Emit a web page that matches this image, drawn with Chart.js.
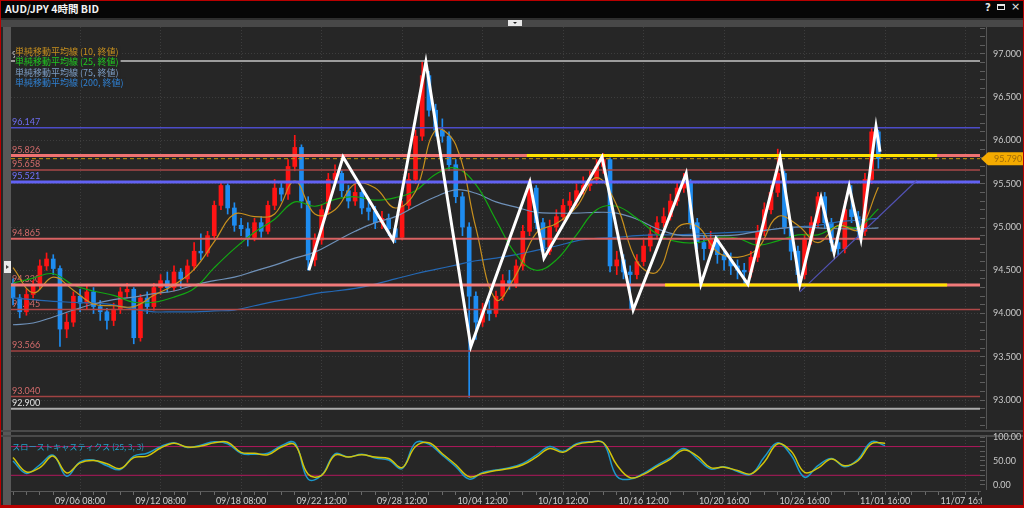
<!DOCTYPE html>
<html>
<head>
<meta charset="utf-8">
<script src="https://cdn.jsdelivr.net/npm/chart.js@4.4.1/dist/chart.umd.min.js"></script>
<style>
html, body { margin: 0; padding: 0; background: #262626; width: 1024px; height: 508px; overflow: hidden; }
#wrap { position: relative; width: 1024px; height: 508px; background: #262626; }
.abs { position: absolute; }
#mainCanvas { position: absolute; left: 0; top: 27px; }
#subCanvas { position: absolute; left: 0; top: 431px; }
</style>
</head>
<body>
<div id="wrap">
  <div class="abs" style="left:0;top:0;width:1024px;height:18px;background:#060606"></div>
  <div class="abs" style="left:5px;top:2px;color:#f2f2f2;font:bold 10.5px 'Noto Sans CJK JP';line-height:13px">AUD/JPY 4時間 BID</div>
  <div class="abs" style="left:985px;top:2px;color:#e8e8e8;font:bold 10px 'DejaVu Sans';line-height:12px">?</div>
  <div class="abs" style="left:997px;top:4px;width:8px;height:6px;border:1px solid #e8e8e8;border-top-width:2px;box-sizing:border-box"></div>
  <div class="abs" style="left:1011px;top:1px;color:#e8e8e8;font:11px 'DejaVu Sans';line-height:12px">×</div>
  <div class="abs" style="left:0;top:18px;width:1024px;height:2px;background:#2e2e2e"></div>
  <div class="abs" style="left:0;top:20px;width:1024px;height:7px;background:#484848"></div>
  <div class="abs" style="left:508px;top:20px;width:14px;height:6px;background:#e8e8e8"></div>
  <div class="abs" style="left:513px;top:22px;width:0;height:0;border-left:2px solid transparent;border-right:2px solid transparent;border-top:2px solid #222"></div>
  <div class="abs" style="left:3px;top:27px;width:8px;height:478px;background:#585858"></div>
  <div class="abs" style="left:4px;top:261px;width:7px;height:12px;background:#eaeaea"></div>
  <div class="abs" style="left:6px;top:265px;width:0;height:0;border-top:2px solid transparent;border-bottom:2px solid transparent;border-left:3px solid #444"></div>
  <div class="abs" style="left:0;top:430px;width:1024px;height:2px;background:#4a4a4a"></div>
  <div class="abs" style="left:0;top:435px;width:1024px;height:2px;background:#4a4a4a"></div>
  <canvas id="mainCanvas" width="1024" height="402"></canvas>
  <canvas id="subCanvas" width="1024" height="77"></canvas>
  <div class="abs" style="left:982px;top:490px;width:42px;height:15px;background:#262626"></div>
  <div class="abs" style="left:0;top:0;width:1024px;height:1px;background:#b80000"></div>
  <div class="abs" style="left:0;top:0;width:1px;height:508px;background:#b80000"></div>
  <div class="abs" style="left:1023px;top:0;width:1px;height:508px;background:#b80000"></div>
  <div class="abs" style="left:0;top:505px;width:1024px;height:3px;background:#b80000"></div>
</div>
<script>
// ---- data ----
var dateLabels = ['09/06 08:00', '09/12 08:00', '09/18 08:00', '09/22 12:00', '09/28 12:00', '10/04 12:00',
                  '10/10 12:00', '10/16 12:00', '10/20 16:00', '10/26 16:00', '11/01 16:00', '11/07 16:00'];

var firstOpen = 94.35;
var closes = [94.18,94.02,94.22,94.32,94.55,94.63,94.52,93.82,93.90,94.20,
              94.12,94.25,94.08,94.02,93.92,94.05,94.25,94.28,93.72,94.18,
              94.08,94.30,94.38,94.30,94.48,94.40,94.55,94.72,94.70,94.90,
              95.25,95.48,95.22,95.02,94.98,94.88,95.05,94.95,95.25,95.45,
              95.38,95.70,95.92,95.30,94.62,94.85,95.20,95.55,95.62,95.42,
              95.30,95.40,95.22,95.18,95.05,95.10,94.98,94.88,95.25,95.55,
              96.05,96.75,96.35,96.12,96.05,95.72,95.35,95.00,94.20,93.90,
              94.05,94.00,94.20,94.38,94.35,94.55,94.95,95.45,95.05,94.72,
              95.00,95.12,95.25,95.30,95.42,95.48,95.55,95.70,95.78,94.55,
              94.62,94.48,94.45,94.60,94.78,94.92,95.05,95.12,95.30,95.45,
              95.52,95.05,94.82,94.75,94.85,94.68,94.62,94.55,94.50,94.48,
              94.65,94.95,95.20,95.40,95.62,95.00,94.72,94.45,94.85,95.05,
              95.35,95.05,94.82,94.75,95.20,95.12,94.95,95.55,96.10,95.79];
var highs = [94.40,94.22,94.28,94.38,94.62,94.70,94.68,94.55,94.00,94.25,
             94.28,94.32,94.30,94.15,94.06,94.12,94.30,94.35,94.30,94.22,
             94.25,94.35,94.45,94.48,94.55,94.52,94.62,94.82,94.92,94.95,
             95.30,95.52,95.50,95.28,95.10,95.05,95.10,95.12,95.30,95.55,
             95.52,95.78,96.06,95.95,95.35,94.92,95.26,95.62,95.72,95.66,
             95.48,95.52,95.46,95.30,95.24,95.18,95.15,95.02,95.30,95.62,
             96.12,96.92,96.80,96.42,96.25,96.10,95.78,95.40,95.05,94.25,
             94.12,94.15,94.26,94.45,94.50,94.62,95.02,95.55,95.48,95.10,
             95.08,95.20,95.32,95.40,95.50,95.58,95.65,95.78,95.85,95.80,
             94.72,94.68,94.55,94.68,94.85,95.00,95.12,95.22,95.38,95.52,
             95.62,95.55,95.10,94.90,94.95,94.90,94.75,94.70,94.62,94.58,
             94.72,95.02,95.28,95.48,95.90,95.66,95.05,94.78,94.92,95.12,
             95.40,95.40,95.10,94.88,95.30,95.48,95.18,95.62,96.15,96.12];
var lows = [94.10,93.95,93.98,94.18,94.28,94.50,94.45,93.62,93.72,93.85,
            94.02,94.05,94.00,93.92,93.82,93.86,94.00,94.18,93.65,93.68,
            94.00,94.04,94.22,94.25,94.26,94.30,94.36,94.50,94.62,94.66,
            94.86,95.20,95.15,94.95,94.90,94.78,94.84,94.88,94.92,95.20,
            95.30,95.32,95.65,95.22,94.50,94.55,94.80,95.15,95.48,95.35,
            95.22,95.25,95.15,95.08,94.98,94.98,94.90,94.82,94.85,95.20,
            95.50,96.00,96.28,96.05,95.98,95.65,95.28,94.90,93.03,93.70,
            93.85,93.92,93.96,94.15,94.28,94.30,94.50,94.90,94.98,94.65,
            94.68,94.95,95.08,95.18,95.25,95.38,95.42,95.50,95.62,94.48,
            94.45,94.40,94.05,94.40,94.55,94.72,94.88,95.00,95.08,95.25,
            95.40,94.98,94.75,94.62,94.70,94.58,94.50,94.45,94.40,94.34,
            94.42,94.60,94.90,95.15,95.35,94.92,94.62,94.33,94.40,94.80,
            95.00,94.98,94.72,94.68,94.70,95.05,94.86,94.90,95.50,95.68];

// moving averages, one reading every third candle
var ma10 = [94.53,94.24,94.42,94.27,94.11,94.09,94.08,94.21,94.33,94.51,
            94.83,95.15,95.12,95.15,95.53,95.15,95.20,95.50,95.45,95.22,
            95.41,96.12,95.95,94.99,94.16,94.45,94.93,95.04,95.23,95.57,
            95.25,94.60,94.48,94.99,95.01,94.71,94.65,94.75,95.12,95.02,
            94.82,95.02,94.97,95.46];
var ma25 = [94.35,94.41,94.46,94.33,94.26,94.21,94.13,94.13,94.19,94.29,
            94.53,94.75,94.94,95.09,95.29,95.24,95.32,95.35,95.31,95.34,
            95.42,95.61,95.68,95.49,95.08,94.68,94.50,94.62,94.91,95.20,
            95.24,95.10,94.92,94.83,94.82,94.88,94.87,94.79,94.84,94.91,
            94.91,95.01,95.00,95.21];
var ma75 = [93.87,93.89,93.96,94.04,94.11,94.16,94.19,94.23,94.26,94.33,
            94.38,94.42,94.49,94.56,94.64,94.71,94.83,94.95,95.05,95.12,
            95.24,95.35,95.43,95.39,95.29,95.23,95.17,95.16,95.16,95.17,
            95.16,95.09,94.98,94.91,94.90,94.90,94.91,94.95,94.98,95.00,
            94.99,94.98,94.98,94.99];
var ma200 = [94.18,94.16,94.14,94.13,94.12,94.10,94.05,94.02,94.02,94.02,
             94.03,94.04,94.09,94.14,94.18,94.23,94.26,94.29,94.34,94.40,
             94.46,94.51,94.56,94.61,94.64,94.68,94.73,94.78,94.84,94.87,
             94.88,94.90,94.91,94.91,94.92,94.93,94.94,94.95,94.98,95.00,
             95.02,95.06,95.08,95.10];

// slow stochastics (25,3,3), one reading every second candle
var stochK = [50,24,42,62,18,48,52,40,32,60, 66,80,88,78,83,90,86,66,64,66,
              82,88,12,20,65,58,64,56,52,34, 88,85,62,38,12,26,31,36,45,62,
              80,70,86,90,88,18,12,24,41,57, 76,55,33,38,28,22,58,88,62,16,
              40,55,38,54,90,82];
var stochD = [57,27,36,60,25,46,51,44,34,57, 60,77,87,79,81,88,89,68,66,63,
              79,84,22,20,62,58,63,58,55,36, 80,88,65,42,17,24,30,34,42,58,
              76,68,84,89,88,42,15,22,38,54, 73,60,36,37,30,23,48,86,70,26,
              35,54,40,51,86,87];
var stochBands = [20, 80];

var levels = [96.920, 96.147, 95.826, 95.658, 95.521, 94.865, 94.330, 94.045, 93.566, 93.040, 92.900];
var lastPrice = 95.790;

// hand-drawn zigzag (x in 4h bars)
var zigX = [89.2, 99.4, 114.3, 124.1, 137.5, 155.1, 159.3, 176.6, 185.9, 201.7, 206.1,
            210.6, 220.1, 229.7, 235.6, 241.9, 245.8, 250.3, 253.8, 258.3, 259.5];
var zigY = [94.50, 95.81, 94.85, 96.91, 93.62, 95.52, 94.64, 95.81, 94.04, 95.62, 94.34,
            94.87, 94.34, 95.81, 94.34, 95.34, 94.70, 95.47, 94.86, 96.16, 95.87];
var rangeTopX = [154.2, 276.5], rangeTop = 95.826;
var rangeBottomX = [195.4, 279.5], rangeBottom = 94.330;
var trendX = [235.6, 270.5], trendY = [94.25, 95.54];

// ---- styles ----
var X_MIN = 0.4, X_MAX = 289.3;
var Y_MIN = 92.665, Y_MAX = 97.312;
var UP = '#ff1414', DOWN = '#1e8cf0';
var levelStyles = [
  { line: '#9c9c9c', width: 2, label: '#c8c8c8' },
  { line: '#4c4cc8', width: 1.5, label: '#6e6ef2' },
  { line: '#f07272', width: 3, label: '#d46c6c' },
  { line: '#a84848', width: 1.5, label: '#d46c6c' },
  { line: '#6262f4', width: 3, label: '#7272ff' },
  { line: '#d86262', width: 2, label: '#d46c6c' },
  { line: '#f27a7a', width: 3, label: '#d46c6c' },
  { line: '#b04848', width: 1.5, label: '#d46c6c' },
  { line: '#a04242', width: 1.5, label: '#d46c6c' },
  { line: '#a04242', width: 1.5, label: '#d46c6c' },
  { line: '#ababab', width: 2, label: '#e4e4e4' }
];
var legendItems = [
  { text: '単純移動平均線 (10, 終値)', color: '#c8901e' },
  { text: '単純移動平均線 (25, 終値)', color: '#20c820' },
  { text: '単純移動平均線 (75, 終値)', color: '#7c9ec6' },
  { text: '単純移動平均線 (200, 終値)', color: '#2f80d2' }
];

Chart.defaults.font.family = "Lato, 'Noto Sans CJK JP', sans-serif";
Chart.defaults.font.size = 9;
Chart.defaults.color = '#cfcfcf';

var opens = closes.map(function (c, i) { return i === 0 ? firstOpen : closes[i - 1]; });
var candleX = closes.map(function (c, i) { return 1 + 2 * i; });
var candleColors = closes.map(function (c, i) { return c >= opens[i] ? UP : DOWN; });

function hline(x0, x1, v) { return [{ x: x0, y: v }, { x: x1, y: v }]; }
function maData(arr) { return arr.map(function (v, k) { return { x: 1 + 6 * k, y: v }; }); }
function stochData(arr) { return arr.map(function (v, m) { return { x: 1 + 4 * m, y: v }; }); }
function lineSet(data, color, width, order, extra) {
  var ds = { type: 'line', data: data, borderColor: color, borderWidth: width, pointRadius: 0, fill: false, order: order, tension: 0 };
  for (var k in extra) ds[k] = extra[k];
  return ds;
}
// keep the plot area flush with the canvas edges
function noPad(s) { s.paddingTop = 0; s.paddingBottom = 0; s.paddingLeft = 0; s.paddingRight = 0; }

var datasets = [];
datasets.push(lineSet(zigX.map(function (x, i) { return { x: x, y: zigY[i] }; }), '#ffffff', 3, 0, { borderJoinStyle: 'miter' }));
datasets.push(lineSet(hline(rangeTopX[0], rangeTopX[1], rangeTop), '#ffe200', 3, 1));
datasets.push(lineSet(hline(rangeBottomX[0], rangeBottomX[1], rangeBottom), '#ffe200', 3, 1));
datasets.push(lineSet(trendX.map(function (x, i) { return { x: x, y: trendY[i] }; }), '#5252b4', 1.2, 2));
datasets.push(lineSet(maData(ma10), '#c8901e', 1.2, 3, { tension: 0.4 }));
datasets.push(lineSet(maData(ma25), '#12a812', 1.2, 3, { tension: 0.4 }));
datasets.push(lineSet(maData(ma75), '#6e90b8', 1.2, 3, { tension: 0.4 }));
datasets.push(lineSet(maData(ma200), '#2468b4', 1.2, 3, { tension: 0.4 }));
levels.forEach(function (v, i) {
  datasets.push(lineSet(hline(X_MIN, X_MAX, v), levelStyles[i].line, levelStyles[i].width, 2));
});
datasets.push(lineSet(hline(X_MIN, X_MAX, lastPrice), '#c8960a', 1, 2, { borderDash: [4, 3] }));
datasets.push({
  type: 'bar', data: closes.map(function (c, i) { return { x: candleX[i], y: [opens[i], c] }; }),
  backgroundColor: candleColors, barThickness: 4, minBarLength: 1, grouped: false, order: 5
});
datasets.push({
  type: 'bar', data: closes.map(function (c, i) { return { x: candleX[i], y: [lows[i], highs[i]] }; }),
  backgroundColor: candleColors, barThickness: 1, grouped: false, order: 6
});

var mainDecor = {
  id: 'mainDecor',
  beforeDatasetsDraw: function (chart) {
    var ctx = chart.ctx, area = chart.chartArea, y = chart.scales.y;
    ctx.save();
    ctx.font = '9px Lato';
    levels.forEach(function (v, i) {
      ctx.fillStyle = levelStyles[i].label;
      ctx.fillText(v.toFixed(3), area.left + 1, y.getPixelForValue(v) - 3);
    });
    ctx.restore();
  },
  afterDraw: function (chart) {
    var ctx = chart.ctx, area = chart.chartArea, y = chart.scales.y;
    ctx.save();
    ctx.font = "9px 'Noto Sans CJK JP'";
    ctx.textBaseline = 'middle';
    legendItems.forEach(function (it, i) {
      var ty = 24.5 + i * 10.4;
      var w = ctx.measureText(it.text).width;
      ctx.fillStyle = '#262626';
      ctx.fillRect(area.left + 4, ty - 5, w + 2, 10);
      ctx.fillStyle = it.color;
      ctx.fillText(it.text, area.left + 4, ty);
    });
    // axis line
    ctx.strokeStyle = '#555555';
    ctx.lineWidth = 1;
    ctx.beginPath();
    ctx.moveTo(area.right + 6.5, area.top);
    ctx.lineTo(area.right + 6.5, area.bottom);
    ctx.stroke();
    // current price tag
    var py = y.getPixelForValue(lastPrice);
    ctx.fillStyle = '#f4ab00';
    ctx.beginPath();
    ctx.moveTo(area.right + 1, py);
    ctx.lineTo(area.right + 8, py - 6.5);
    ctx.lineTo(chart.width, py - 6.5);
    ctx.lineTo(chart.width, py + 6.5);
    ctx.lineTo(area.right + 8, py + 6.5);
    ctx.closePath();
    ctx.fill();
    ctx.fillStyle = '#a06c08';
    ctx.font = '9px Lato';
    ctx.fillText(lastPrice.toFixed(3), area.right + 14, py + 0.5);
    ctx.restore();
  }
};

function isHalf(v) { return Math.round(v * 10) % 5 === 0; }

new Chart(document.getElementById('mainCanvas'), {
  type: 'bar',
  data: { datasets: datasets },
  options: {
    responsive: false,
    animation: false,
    layout: { padding: { left: 11, right: 0, top: 0, bottom: 0 } },
    plugins: { legend: { display: false }, tooltip: { enabled: false } },
    scales: {
      x: {
        type: 'linear', min: X_MIN, max: X_MAX, offset: false,
        afterBuildTicks: function (s) { s.ticks = dateLabels.map(function (d, k) { return { value: 21 + 24 * k }; }); },
        afterFit: function (s) { s.height = 0; noPad(s); },
        ticks: { display: false },
        grid: { color: '#3d3d3d', drawTicks: false, offset: false },
        border: { display: false, dash: [1, 2] }
      },
      y: {
        position: 'right', min: Y_MIN, max: Y_MAX,
        afterFit: function (s) { s.width = 44; noPad(s); },
        afterBuildTicks: function (s) {
          var t = [];
          for (var k = 927; k <= 973; k++) t.push({ value: k / 10 });
          s.ticks = t;
        },
        ticks: {
          autoSkip: false, padding: 8, color: '#c9c9c9',
          callback: function (v) { return isHalf(v) ? v.toFixed(3) : ''; }
        },
        grid: {
          color: function (c) { return c.tick && isHalf(c.tick.value) ? '#3d3d3d' : 'rgba(0,0,0,0)'; },
          tickColor: '#5e5e5e', tickLength: 5
        },
        border: { display: false, dash: [1, 2] }
      }
    }
  },
  plugins: [mainDecor]
});

// ---- stochastics panel ----
var subDecor = {
  id: 'subDecor',
  afterDraw: function (chart) {
    var ctx = chart.ctx, area = chart.chartArea;
    ctx.save();
    ctx.font = "8.2px 'Noto Sans CJK JP'";
    ctx.textBaseline = 'middle';
    ctx.fillStyle = '#22a2cc';
    ctx.fillText('スローストキャスティクス (25, 3, 3)', area.left + 1, area.top + 10);
    ctx.strokeStyle = '#555555';
    ctx.lineWidth = 1;
    ctx.beginPath();
    ctx.moveTo(area.right + 6.5, area.top - 2);
    ctx.lineTo(area.right + 6.5, area.bottom + 3);
    ctx.stroke();
    ctx.restore();
  }
};

new Chart(document.getElementById('subCanvas'), {
  type: 'line',
  data: {
    datasets: [
      lineSet(stochData(stochK), '#1b98cc', 1.5, 1, { tension: 0.4 }),
      lineSet(stochData(stochD), '#d2c40a', 1.5, 0, { tension: 0.4 }),
      lineSet(hline(X_MIN, X_MAX, stochBands[0]), '#b0185c', 1, 2),
      lineSet(hline(X_MIN, X_MAX, stochBands[1]), '#b0185c', 1, 2)
    ]
  },
  options: {
    responsive: false,
    animation: false,
    layout: { padding: { left: 11, right: 0, top: 6, bottom: 0 } },
    plugins: { legend: { display: false }, tooltip: { enabled: false } },
    scales: {
      x: {
        type: 'linear', min: X_MIN, max: X_MAX, offset: false,
        afterBuildTicks: function (s) {
          var t = [];
          for (var v = 1; v <= 289; v += 4) t.push({ value: v });
          s.ticks = t;
        },
        afterFit: function (s) { s.height = 17; noPad(s); },
        ticks: {
          autoSkip: false, maxRotation: 0, padding: 1, color: '#cfcfcf',
          callback: function (v) { return (v >= 21 && (v - 21) % 24 === 0) ? dateLabels[(v - 21) / 24] : ''; }
        },
        grid: {
          color: function (c) { return c.tick && c.tick.value >= 21 && (c.tick.value - 21) % 24 === 0 ? '#3d3d3d' : 'rgba(0,0,0,0)'; },
          tickColor: '#6a6a6a', tickLength: 4
        },
        border: { color: '#5a5a5a', dash: [1, 2] }
      },
      y: {
        position: 'right', min: -12.8, max: 100,
        afterFit: function (s) { s.width = 44; noPad(s); },
        afterBuildTicks: function (s) {
          var t = [];
          for (var v = 0; v <= 100; v += 10) t.push({ value: v });
          s.ticks = t;
        },
        ticks: {
          autoSkip: false, padding: 8, color: '#c9c9c9',
          callback: function (v) { return v % 50 === 0 ? v.toFixed(2) : ''; }
        },
        grid: { color: 'rgba(0,0,0,0)', tickColor: '#5e5e5e', tickLength: 5 },
        border: { display: false }
      }
    }
  },
  plugins: [subDecor]
});
</script>
</body>
</html>
